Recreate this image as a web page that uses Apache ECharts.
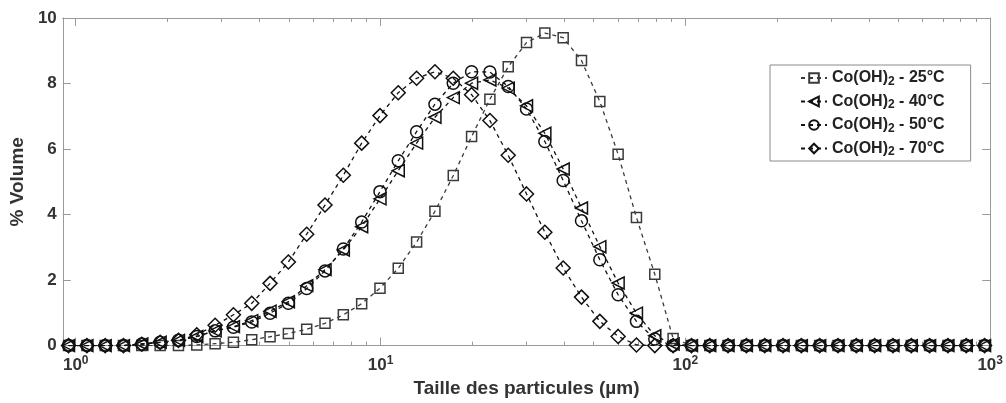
<!DOCTYPE html>
<html>
<head>
<meta charset="utf-8">
<script src="https://cdn.jsdelivr.net/npm/echarts@6/dist/echarts.min.js"></script>
<style>
html,body{margin:0;padding:0;background:#fff;}
#chart{width:1006px;height:403px;}
</style>
</head>
<body>
<div id="chart"></div>
<script>
// Particle sizes (µm) of the measurement channels
const sizes = [0.947, 1.088, 1.249, 1.434, 1.647, 1.892, 2.173, 2.495, 2.866, 3.291,
  3.779, 4.340, 4.984, 5.724, 6.573, 7.549, 8.670, 9.956, 11.43, 13.13,
  15.08, 17.32, 19.89, 22.84, 26.23, 30.12, 34.59, 39.73, 45.62, 52.40,
  60.17, 69.10, 79.36, 91.14, 104.7, 120.2, 138.0, 158.5, 182.1, 209.1,
  240.1, 275.8, 316.7, 363.7, 417.7, 479.7, 550.9, 632.6, 726.5, 834.4, 958.3];

const seriesNames = ['Co(OH)2 - 25°C', 'Co(OH)2 - 40°C', 'Co(OH)2 - 50°C', 'Co(OH)2 - 70°C'];

const vol25 = [0, 0, 0, 0, 0, 0, 0, 0.02, 0.06, 0.10,
  0.18, 0.27, 0.37, 0.50, 0.68, 0.94, 1.28, 1.75, 2.36, 3.16,
  4.10, 5.19, 6.38, 7.52, 8.51, 9.25, 9.54, 9.40, 8.70, 7.45,
  5.84, 3.91, 2.18, 0.22, 0, 0, 0, 0, 0, 0,
  0, 0, 0, 0, 0, 0, 0, 0, 0, 0, 0];

const vol40 = [0, 0, 0, 0, 0.05, 0.10, 0.16, 0.28, 0.45, 0.58,
  0.76, 1.05, 1.34, 1.83, 2.32, 2.92, 3.63, 4.48, 5.34, 6.18,
  6.97, 7.57, 8.01, 8.11, 7.86, 7.32, 6.48, 5.39, 4.20, 3.02,
  1.91, 0.99, 0.30, 0.05, 0, 0, 0, 0, 0, 0,
  0, 0, 0, 0, 0, 0, 0, 0, 0, 0, 0];

const vol50 = [0, 0, 0, 0, 0.05, 0.10, 0.16, 0.28, 0.45, 0.56,
  0.72, 0.99, 1.29, 1.74, 2.28, 2.95, 3.77, 4.70, 5.64, 6.53,
  7.37, 8.01, 8.36, 8.35, 7.91, 7.22, 6.23, 5.04, 3.81, 2.62,
  1.55, 0.74, 0.20, 0, 0, 0, 0, 0, 0, 0,
  0, 0, 0, 0, 0, 0, 0, 0, 0, 0, 0];

const vol70 = [0, 0, 0, 0, 0.04, 0.10, 0.16, 0.33, 0.62, 0.94,
  1.29, 1.90, 2.55, 3.40, 4.29, 5.20, 6.18, 7.02, 7.72, 8.16,
  8.36, 8.16, 7.66, 6.87, 5.81, 4.63, 3.46, 2.37, 1.48, 0.74,
  0.28, 0.02, 0, 0, 0, 0, 0, 0, 0, 0,
  0, 0, 0, 0, 0, 0, 0, 0, 0, 0, 0];

const xMajorTicks = [1, 10, 100, 1000];
const xMinorTicks = [2, 3, 4, 5, 6, 7, 8, 9, 20, 30, 40, 50, 60, 70, 80, 90,
  200, 300, 400, 500, 600, 700, 800, 900];
const yTicks = [0, 2, 4, 6, 8, 10];

const xAxisTitle = 'Taille des particules (µm)';
const yAxisTitle = '% Volume';

const axisGrey = '#9a9a9a';
const textCol = '#333333';
const FONT = 'Liberation Sans, Arial, sans-serif';

function pairs(vals) { return sizes.map((s, i) => [s, vals[i]]); }

const markerDefs = [
  { symbol: 'rect', size: 10, rotate: 0, vals: vol25, col: '#3a3a3a' },
  { symbol: 'triangle', size: 12, rotate: 90, vals: vol40, col: '#111' },
  { symbol: 'circle', size: 12, rotate: 0, vals: vol50, col: '#111' },
  { symbol: 'diamond', size: 14, rotate: 0, vals: vol70, col: '#111' }
];

const series = markerDefs.map((m, i) => ({
  name: seriesNames[i],
  type: 'line',
  xAxisIndex: 0,
  yAxisIndex: 0,
  data: pairs(m.vals),
  symbol: m.symbol,
  symbolSize: m.size,
  symbolRotate: m.rotate,
  showAllSymbol: true,
  animation: false,
  lineStyle: { color: m.col, width: 1.3, type: [4, 4] },
  itemStyle: { color: 'rgba(0,0,0,0)', borderColor: m.col, borderWidth: 1.5 },
  emphasis: { disabled: true },
  z: 2 + i
}));

const baseLog = { type: 'log', logBase: 10, min: 0.907, max: 1000, gridIndex: 0 };

const chart = echarts.init(document.getElementById('chart'), null, { renderer: 'canvas' });
chart.setOption({
  animation: false,
  backgroundColor: '#fff',
  grid: { left: 62, top: 18, right: 14, bottom: 48, containLabel: false },
  legend: {
    data: seriesNames,
    orient: 'vertical',
    left: 770,
    top: 65,
    padding: [5, 26, 3, 30],
    itemGap: 6,
    itemWidth: 26,
    itemHeight: 12,
    borderColor: '#8a8a8a',
    borderWidth: 1,
    backgroundColor: '#fff',
    selectedMode: false,
    formatter: n => n.replace('(OH)2', '(OH){sub|2}'),
    textStyle: {
      fontFamily: FONT, fontWeight: 'bold', fontSize: 16, color: '#222',
      rich: { sub: { fontFamily: FONT, fontWeight: 'bold', fontSize: 12, color: '#222', padding: [7, 0, 0, 0] } }
    }
  },
  xAxis: [
    Object.assign({}, baseLog, {
      position: 'bottom',
      name: xAxisTitle,
      nameLocation: 'middle',
      nameGap: 27,
      nameTextStyle: { fontFamily: FONT, fontWeight: 'bold', fontSize: 19, color: textCol },
      axisLine: { show: true, onZero: false, lineStyle: { color: axisGrey, width: 1 } },
      axisTick: { show: true, inside: true, length: 8, customValues: xMajorTicks, lineStyle: { color: axisGrey } },
      axisLabel: {
        customValues: xMajorTicks,
        margin: 9,
        formatter: v => '{b|10}{s|' + Math.round(Math.log10(v)) + '}',
        rich: {
          b: { fontFamily: FONT, fontWeight: 'bold', fontSize: 17, color: textCol },
          s: { fontFamily: FONT, fontWeight: 'bold', fontSize: 12, color: textCol, padding: [0, 0, 10, 0] }
        }
      },
      splitLine: { show: false }
    }),
    Object.assign({}, baseLog, {
      position: 'top',
      axisLine: { show: true, onZero: false, lineStyle: { color: axisGrey, width: 1 } },
      axisTick: { show: true, inside: true, length: 8, customValues: xMajorTicks, lineStyle: { color: axisGrey } },
      axisLabel: { show: false },
      splitLine: { show: false }
    }),
    Object.assign({}, baseLog, {
      position: 'bottom',
      axisLine: { show: false, onZero: false },
      axisTick: { show: true, inside: true, length: 4, customValues: xMinorTicks, lineStyle: { color: axisGrey } },
      axisLabel: { show: false },
      splitLine: { show: false }
    }),
    Object.assign({}, baseLog, {
      position: 'top',
      axisLine: { show: false, onZero: false },
      axisTick: { show: true, inside: true, length: 4, customValues: xMinorTicks, lineStyle: { color: axisGrey } },
      axisLabel: { show: false },
      splitLine: { show: false }
    })
  ],
  yAxis: [
    {
      type: 'value', position: 'left', min: 0, max: 10, interval: 2,
      name: yAxisTitle, nameLocation: 'middle', nameGap: 35, nameRotate: 90,
      nameTextStyle: { fontFamily: FONT, fontWeight: 'bold', fontSize: 19, color: textCol },
      axisLine: { show: true, onZero: false, lineStyle: { color: axisGrey, width: 1 } },
      axisTick: { show: true, inside: true, length: 8, customValues: yTicks, lineStyle: { color: axisGrey } },
      axisLabel: { customValues: yTicks, margin: 6, fontFamily: FONT, fontWeight: 'bold', fontSize: 17, color: textCol },
      splitLine: { show: false }
    },
    {
      type: 'value', position: 'right', min: 0, max: 10, interval: 2,
      axisLine: { show: true, onZero: false, lineStyle: { color: axisGrey, width: 1 } },
      axisTick: { show: true, inside: true, length: 8, customValues: yTicks, lineStyle: { color: axisGrey } },
      axisLabel: { show: false },
      splitLine: { show: false }
    }
  ],
  series: series
});
</script>
</body>
</html>
